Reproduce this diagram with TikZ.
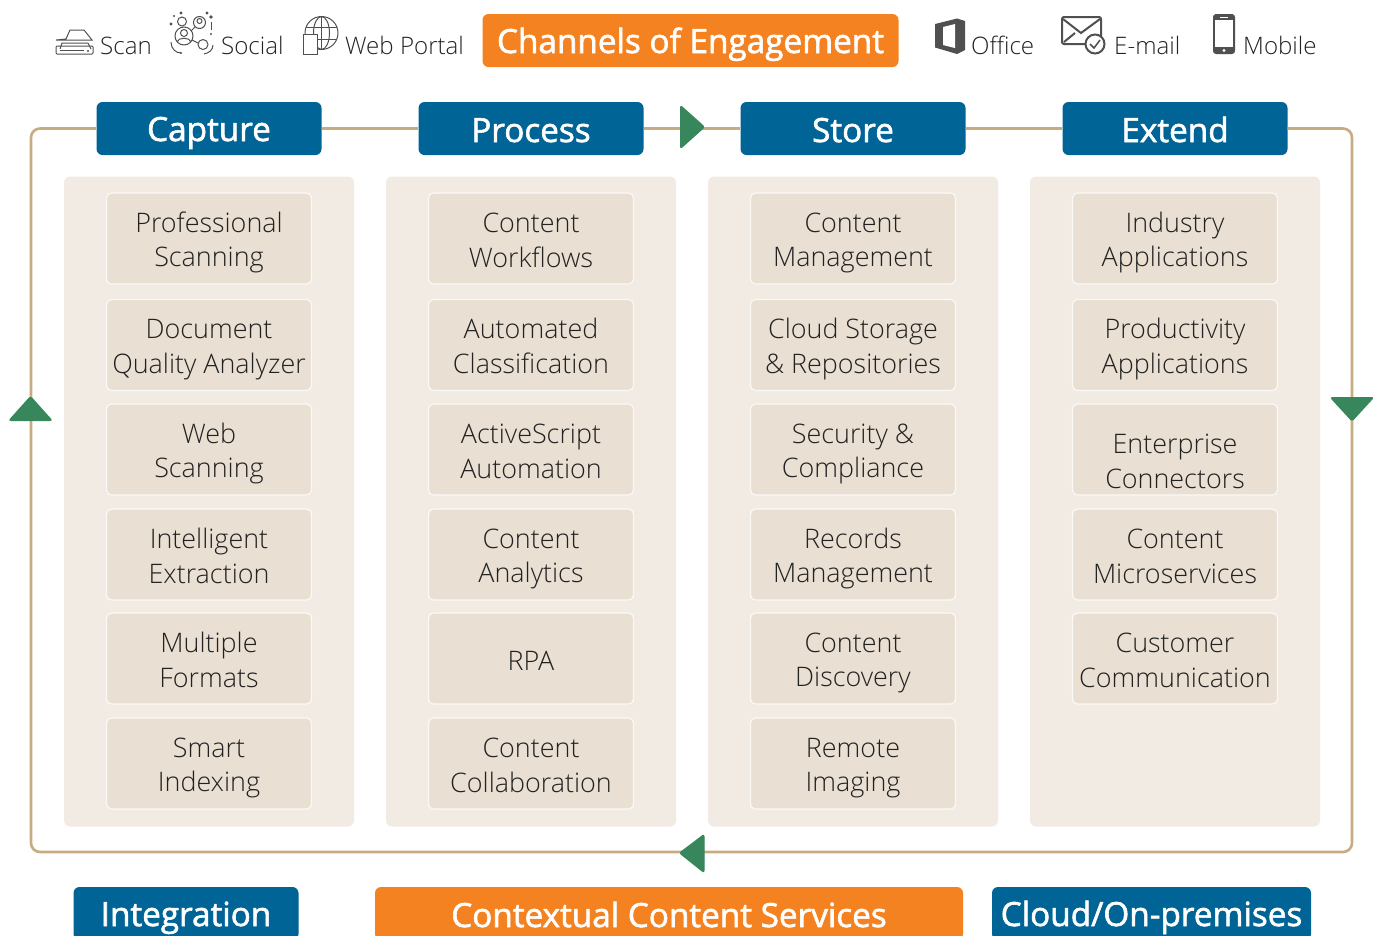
\documentclass[tikz,border=0pt]{standalone}
\usepackage{fontspec}
\usepackage{xcolor}
\setmainfont{Open Sans Light}
\newfontfamily\headfont[FakeBold=1.8]{Open Sans}
\definecolor{headblue}{HTML}{006496}
\definecolor{engageorange}{HTML}{F58220}
\definecolor{panelbeige}{HTML}{F2EBE4}
\definecolor{tilebeige}{HTML}{E9DFD2}
\definecolor{frametan}{HTML}{C9AB82}
\definecolor{tipgreen}{HTML}{38875C}
\definecolor{icongray}{HTML}{505050}
\definecolor{inktext}{HTML}{222222}
\newcommand{\tiletext}[2]{\rule{0pt}{28.5pt}#1\\#2\rule[-6pt]{0pt}{6pt}}
\newcommand{\headstrut}{\rule[-6pt]{0pt}{39pt}}

\begin{document}
\begin{tikzpicture}[x=1pt,y=-1pt,
							panelbox/.style={fill=panelbeige,rounded corners=6pt,minimum width=290pt,minimum height=650pt,inner sep=0pt},
							tilebox/.style={fill=tilebeige,draw=white!80!tilebeige,line width=1.2pt,rounded corners=5pt,minimum width=205pt,minimum height=91pt,
								inner sep=0pt,align=center,text=inktext,font=\fontsize{26.9}{34.7}\selectfont},
							headbox/.style={fill=headblue,rounded corners=6pt,minimum width=225pt,minimum height=53pt,inner sep=0pt,text=white,
								font=\headfont\fontsize{33.3}{38}\selectfont,execute at begin node=\headstrut},
							orangebox/.style={headbox,fill=engageorange},
							channeltext/.style={anchor=base west,inner sep=0pt,text=inktext,font=\fontsize{24.1}{30}\selectfont},
							frameline/.style={draw=frametan,line width=2.6pt},
							flowtip/.style={fill=tipgreen,draw=tipgreen,line width=1pt,rounded corners=2pt},
							iconline/.style={draw=icongray,line width=1pt},
							iconfill/.style={fill=icongray}]
			\useasboundingbox (0,0) rectangle (1378,935);
			% panels
			\node[panelbox] (capturepanel) at (209,501.5) {};
			\node[panelbox] (processpanel) at (531,501.5) {};
			\node[panelbox] (storepanel) at (853,501.5) {};
			\node[panelbox] (extendpanel) at (1175,501.5) {};
			% loop round the panels
			\coordinate (topleft) at (31,128.5);
			\coordinate (topright) at (1352,128.5);
			\coordinate (bottomright) at (1352,852);
			\coordinate (bottomleft) at (31,852);
			\node[headbox] (capture) at (209,128.5) {Capture};
			\node[headbox] (process) at (531,128.5) {Process};
			\node[headbox] (store) at (853,128.5) {Store};
			\node[headbox] (extend) at (1175,128.5) {Extend};
			\draw[frameline] (capture) -- (process);
			\draw[frameline] (process) -- (store);
			\draw[frameline] (store) -- (extend);
			\draw[frameline,rounded corners=9pt] (extend.east) -- (topright) -- (bottomright) -- (bottomleft) -- (topleft) -- (capture.west);
			\fill[flowtip] (680.5,105.5) -- (704.5,127) -- (680.5,148.5) -- cycle;
			\fill[flowtip] (30.5,396.5) -- (52,420.5) -- (9,420.5) -- cycle;
			\fill[flowtip] (1352,421) -- (1330.5,397.5) -- (1373.5,397.5) -- cycle;
			\fill[flowtip] (679.5,853) -- (704,834.5) -- (704,872.5) -- cycle;
			% capture
			\node[tilebox] (proscan) at (209,238.5) {\tiletext{Professional}{Scanning}};
			\node[tilebox] (docquality) at (209,345) {\tiletext{Document}{Quality Analyzer}};
			\node[tilebox] (webscan) at (209,449.5) {\tiletext{Web}{Scanning}};
			\node[tilebox] (extraction) at (209,554.5) {\tiletext{Intelligent}{Extraction}};
			\node[tilebox] (formats) at (209,658.5) {\tiletext{Multiple}{Formats}};
			\node[tilebox] (indexing) at (209,763.5) {\tiletext{Smart}{Indexing}};
			% process
			\node[tilebox] (workflows) at (531,238.5) {\tiletext{Content}{Workflows}};
			\node[tilebox] (classify) at (531,345) {\tiletext{Automated}{Classification}};
			\node[tilebox] (activescript) at (531,449.5) {\tiletext{ActiveScript}{Automation}};
			\node[tilebox] (analytics) at (531,554.5) {\tiletext{Content}{Analytics}};
			\node[tilebox] (rpa) at (531,658.5) {\rule{0pt}{24pt}RPA};
			\node[tilebox] (collab) at (531,763.5) {\tiletext{Content}{Collaboration}};
			% store
			\node[tilebox] (management) at (853,238.5) {\tiletext{Content}{Management}};
			\node[tilebox] (cloudstore) at (853,345) {\tiletext{Cloud Storage}{\& Repositories}};
			\node[tilebox] (security) at (853,449.5) {\tiletext{Security \&}{Compliance}};
			\node[tilebox] (records) at (853,554.5) {\tiletext{Records}{Management}};
			\node[tilebox] (discovery) at (853,658.5) {\tiletext{Content}{Discovery}};
			\node[tilebox] (imaging) at (853,763.5) {\tiletext{Remote}{Imaging}};
			% extend
			\node[tilebox] (industry) at (1175,238.5) {\tiletext{Industry}{Applications}};
			\node[tilebox] (productivity) at (1175,345) {\tiletext{Productivity}{Applications}};
			\node[tilebox] (connectors) at (1175,449.5) {\rule{0pt}{43pt}Enterprise\\Connectors};
			\node[tilebox] (microservices) at (1175,554.5) {\tiletext{Content}{Microservices}};
			\node[tilebox] (customer) at (1175,658.5) {\tiletext{Customer}{Communication}};
			% channels
			\node[orangebox,minimum width=416pt] (channels) at (690.5,40.5) {Channels of Engagement};
			\node[channeltext] (scan) at (100,54.5) {Scan};
			\node[channeltext] (social) at (221,54.5) {Social};
			\node[channeltext] (webportal) at (345,54.5) {Web Portal};
			\node[channeltext] (office) at (971,54.5) {Office};
			\node[channeltext] (email) at (1114,54.5) {E-mail};
			\node[channeltext] (mobile) at (1243,54.5) {Mobile};
			% bottom row
			\node[headbox] (integration) at (186,913.5) {Integration};
			\node[orangebox,minimum width=588pt] (contextual) at (669,913.5) {Contextual Content Services};
			\node[headbox,minimum width=319pt] (cloud) at (1151.5,913.5) {Cloud/On-premises};
			% scan icon
			\draw[iconline] (66,39) -- (70,30) -- (84,30) -- (92,40) -- (56,40) -- (66,39);
			\draw[iconline] (60,49) -- (62,43) -- (88,43) -- (91,49);
			\draw[iconline,rounded corners=1pt] (56,46) rectangle (93,54);
			\draw[iconline] (60,50) -- (84,50);
			\fill[iconfill] (88,51) circle (1.2);
			% social icon
			\draw[iconline] (184,36) circle (9);
			\draw[iconline] (184,33) circle (3.5);
			\draw[iconline] (177,42) .. controls (178,37) and (190,37) .. (191,42);
			\draw[iconline] (199.5,22.5) circle (6);
			\draw[iconline] (199.5,21) circle (2.5);
			\draw[iconline] (182,21.5) circle (4.5);
			\draw[iconline] (203,44.5) circle (5);
			\draw[iconline] (191,31) -- (195,27);
			\draw[iconline] (192,40) -- (198,43);
			\draw[iconline] (171,42) .. controls (171,49) and (176,53) .. (181,53);
			\draw[iconline] (213,45) .. controls (213,50) and (209,53) .. (204,54);
			\fill[iconfill] (181,13) circle (1.6) (174,16) circle (1.2) (171,24) circle (1.6) (207,13) circle (1.6) (211,17) circle (1.8) (211,34) circle (1.2) (181,53) circle (1.2);
			\draw[iconline] (211,22) -- (211,30);
			% web portal icon
			\draw[iconline] (321.5,33) circle (16.5);
			\draw[iconline] (321.5,33) ellipse (8 and 16.5);
			\draw[iconline] (321.5,16.5) -- (321.5,49.5);
			\draw[iconline] (306,27) -- (337,27);
			\draw[iconline] (306,39) -- (337,39);
			\draw[iconline,fill=white] (303,34) rectangle (317,54);
			% office icon
			\fill[iconfill] (935,24) -- (957,18.5) -- (965,21) -- (965,50) -- (957,54) -- (935,47.5) -- cycle;
			\fill[white] (943,27) -- (955,24) -- (955,48) -- (943,45) -- cycle;
			% e-mail icon
			\draw[iconline,line width=2pt,rounded corners=2pt] (1062,17) rectangle (1101,44);
			\draw[iconline,line width=2pt] (1063,19) -- (1081,33) -- (1100,19);
			\draw[iconline,line width=2pt] (1064,42) -- (1075,33);
			\draw[iconline,line width=2pt,fill=white] (1095,44) circle (9.5);
			\draw[iconline,line width=1.5pt] (1090,44) -- (1094,48) -- (1100,40);
			% mobile icon
			\fill[iconfill,rounded corners=3pt] (1213,14) rectangle (1235,54);
			\fill[white] (1215,20) rectangle (1233,47);
			\fill[white] (1224,50.5) circle (1.7);
			\draw[white,line width=1pt] (1220,17) -- (1228,17);
		\end{tikzpicture}
\end{document}
